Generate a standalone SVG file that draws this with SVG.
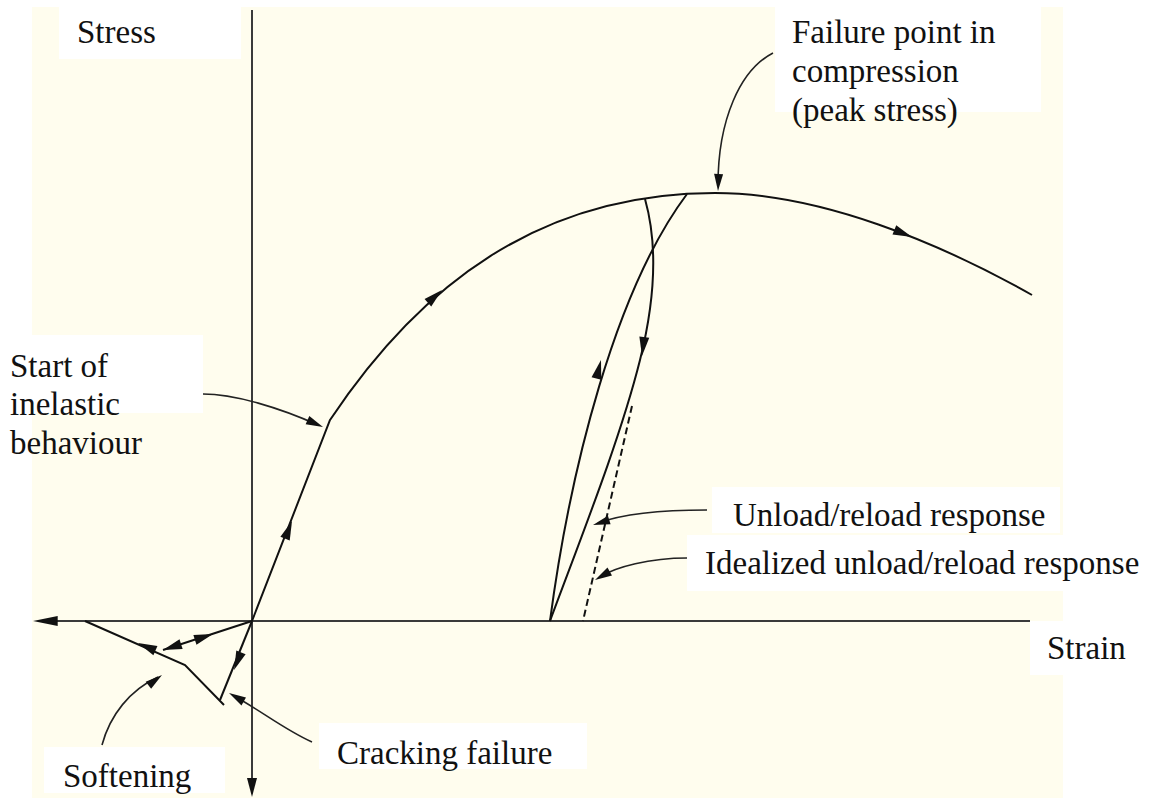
<svg xmlns="http://www.w3.org/2000/svg" xmlns:xlink="http://www.w3.org/1999/xlink" width="1150" height="798" viewBox="0 0 1150 798">
<style>
.bg{fill:#FFFDEE}
.box{fill:#FFFFFF}
.lbl{font-family:'Liberation Serif','DejaVu Serif',serif;font-size:33px;fill:#111}
.axis{stroke:#3a3a3a;stroke-width:2;fill:none}
.crv{stroke:#111;stroke-width:2;fill:none}
.ann{stroke:#222;stroke-width:1.6;fill:none}
.dash{stroke:#111;stroke-width:2;fill:none;stroke-dasharray:7 4}
.ah{fill:#111}
</style>
<defs>
<path id="ah" d="M0,0 L-19,-5 L-19,5 Z"/>
<path id="ahs" d="M0,0 L-17,-4.5 L-17,4.5 Z"/>
</defs>
<rect class="bg" x="32" y="7" width="1031" height="791"/>

<g id="axes">
<line class="axis" x1="252" y1="10" x2="252" y2="780"/>
<line class="axis" x1="55" y1="621" x2="1030" y2="621"/>
<use href="#ah" class="ah" transform="translate(33,621) rotate(180) scale(1.3,1)"/>
<use href="#ah" class="ah" transform="translate(252,797) rotate(90)"/>
</g>

<g id="connectors">
<path class="crv" d="M252,621 L330,420 C420,285 540,193 715,193 C820,193 940,243 1032,295"/>
<use href="#ah" class="ah" transform="translate(292,521) rotate(-68.6)"/>
<use href="#ah" class="ah" transform="translate(442,290) rotate(-42)"/>
<use href="#ah" class="ah" transform="translate(912,237) rotate(22)"/>
<path class="crv" d="M550,621 C570,470 615,290 687,194"/>
<use href="#ah" class="ah" transform="translate(601,360) rotate(-76)"/>
<path class="crv" d="M645,199 C658,245 655,300 640,360 C620,440 580,540 550,621"/>
<use href="#ah" class="ah" transform="translate(642,356) rotate(97)"/>
<path class="dash" d="M632,406 L583,621"/>
<path class="crv" d="M252,621 L163,650"/>
<use href="#ah" class="ah" transform="translate(163,650) rotate(162)"/>
<use href="#ah" class="ah" transform="translate(213,634) rotate(-18)"/>
<path class="crv" d="M252,621 L220,700"/>
<use href="#ah" class="ah" transform="translate(234,670) rotate(111.5)"/>
<path class="crv" d="M85,621 L185,665 L224,705"/>
<use href="#ah" class="ah" transform="translate(138,643) rotate(203.7)"/>
<path class="ann" d="M773,53 C740,70 718,120 718,185"/>
<use href="#ahs" class="ah" transform="translate(718,191) rotate(92)"/>
<path class="ann" d="M203,394 C235,394 280,408 318,425"/>
<use href="#ahs" class="ah" transform="translate(323,427) rotate(24)"/>
<path class="ann" d="M707,510 C660,510 620,515 598,523"/>
<use href="#ahs" class="ah" transform="translate(593,525) rotate(163)"/>
<path class="ann" d="M687,558 C650,558 615,567 600,577"/>
<use href="#ahs" class="ah" transform="translate(595,580) rotate(150)"/>
<path class="ann" d="M102,745 C110,715 130,690 158,677"/>
<use href="#ahs" class="ah" transform="translate(162,675) rotate(-37)"/>
<path class="ann" d="M312,742 C285,730 260,710 234,696"/>
<use href="#ahs" class="ah" transform="translate(229,693) rotate(-150)"/>
</g>

<g id="label-stress">
<rect class="box" x="59" y="7" width="182" height="52"/>
<text class="lbl" x="77" y="43" font-family="Liberation Serif, serif">Stress</text>
</g>
<g id="label-failure">
<rect class="box" x="775" y="7" width="266" height="105"/>
<text class="lbl" x="792" y="43">Failure point in</text>
<text class="lbl" x="792" y="82">compression</text>
<text class="lbl" x="792" y="121">(peak stress)</text>
</g>
<g id="label-inelastic">
<rect class="box" x="0" y="335" width="203" height="78"/>
<text class="lbl" x="10" y="377">Start of</text>
<text class="lbl" x="10" y="415">inelastic</text>
<text class="lbl" x="10" y="454">behaviour</text>
</g>
<g id="label-unload">
<rect class="box" x="712" y="487" width="348" height="46"/>
<text class="lbl" x="733" y="526">Unload/reload response</text>
</g>
<g id="label-idealized">
<rect class="box" x="687" y="535" width="463" height="56"/>
<text class="lbl" x="705" y="574">Idealized unload/reload response</text>
</g>
<g id="label-strain">
<rect class="box" x="1030" y="621" width="98" height="54"/>
<text class="lbl" x="1047" y="659">Strain</text>
</g>
<g id="label-cracking">
<rect class="box" x="319" y="723" width="268" height="46"/>
<text class="lbl" x="337" y="764">Cracking failure</text>
</g>
<g id="label-softening">
<rect class="box" x="44" y="747" width="181" height="46"/>
<text class="lbl" x="63" y="787">Softening</text>
</g>
</svg>
